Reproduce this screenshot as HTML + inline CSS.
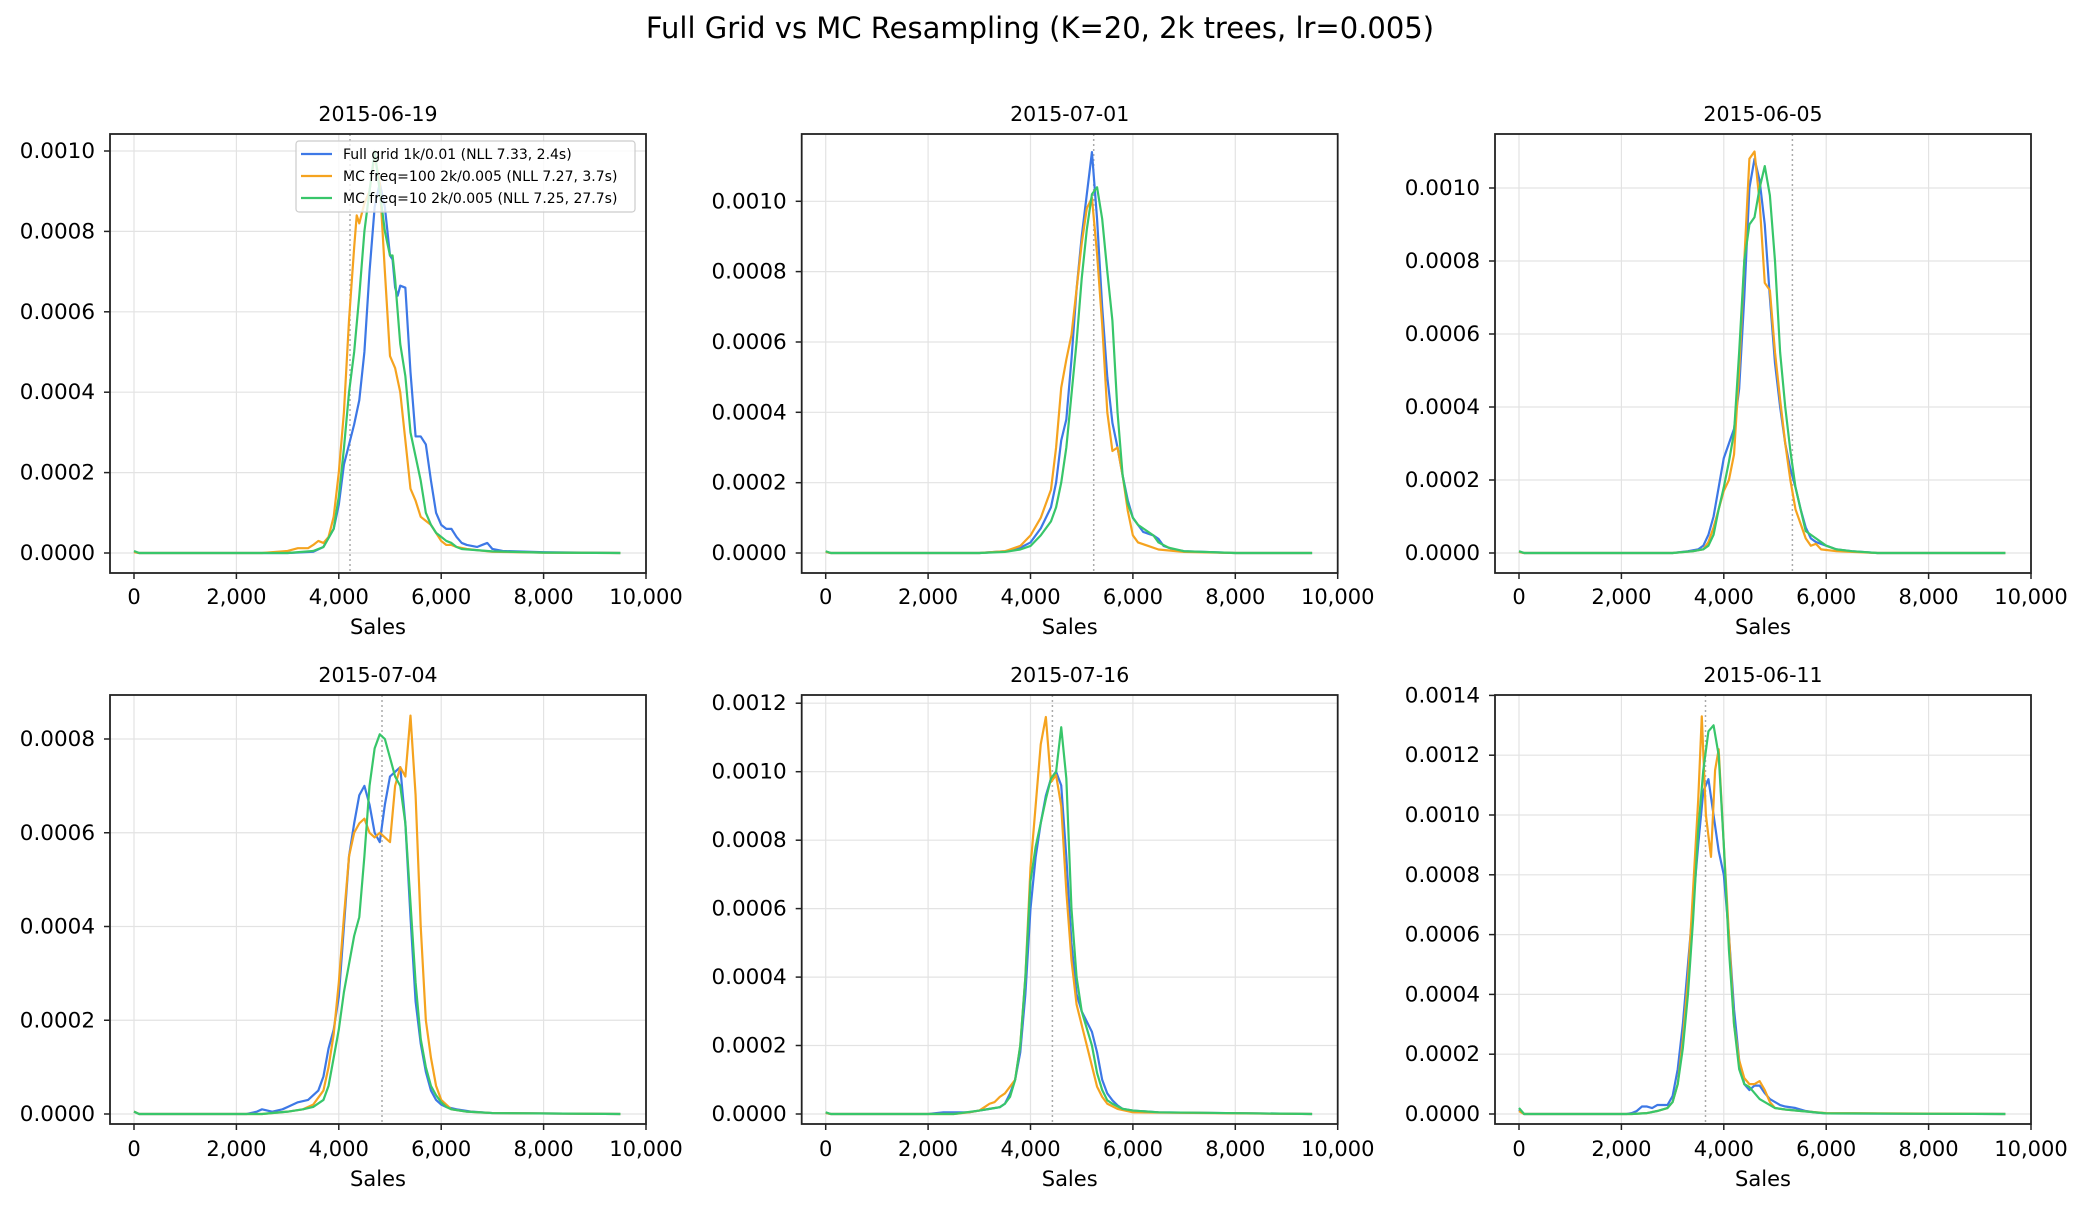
<!DOCTYPE html>
<html><head><meta charset="utf-8"><style>
html,body{margin:0;padding:0;background:#fff}
svg{display:block;font-family:"DejaVu Sans","Liberation Sans",sans-serif}
.g{stroke:#e3e3e3;stroke-width:1.2}
.ax{fill:none;stroke:#222;stroke-width:1.8}
.tk{stroke:#222;stroke-width:1.5}
.d{stroke:#aaa;stroke-width:1.5;stroke-dasharray:2,3}
.c{fill:none;stroke-width:2.2;stroke-linejoin:round;vector-effect:non-scaling-stroke}
.b{stroke:#3d78e6}.o{stroke:#f5a31f}.n{stroke:#38c66a}
.yl{font-size:21.5px;text-anchor:end}
.xl{font-size:21px;text-anchor:middle}
.t{font-size:20.5px;text-anchor:middle}
</style></head><body>
<svg width="2080" height="1218" viewBox="0 0 2080 1218" xmlns="http://www.w3.org/2000/svg">
<text x="1040" y="38" font-size="29" text-anchor="middle">Full Grid vs MC Resampling (K=20, 2k trees, lr=0.005)</text>

<!-- ===== Panel 1 ===== -->
<g>
<g class="g">
<line x1="134" y1="134" x2="134" y2="573"/><line x1="236.4" y1="134" x2="236.4" y2="573"/><line x1="338.8" y1="134" x2="338.8" y2="573"/><line x1="441.2" y1="134" x2="441.2" y2="573"/><line x1="543.6" y1="134" x2="543.6" y2="573"/>
<line x1="110" y1="553" x2="646" y2="553"/><line x1="110" y1="472.6" x2="646" y2="472.6"/><line x1="110" y1="392.2" x2="646" y2="392.2"/><line x1="110" y1="311.8" x2="646" y2="311.8"/><line x1="110" y1="231.4" x2="646" y2="231.4"/><line x1="110" y1="151" x2="646" y2="151"/>
</g>
<line class="d" x1="350" y1="134" x2="350" y2="573"/>
<g transform="translate(134,553) scale(5.12,-4.02)">
<polyline class="c b" points="0,0.3 1,0 30,0 35,0.3 37,1.5 39,6 40,12 41,22 42,27 43,32 44,38 45,50 46,70 47,86 48,92 49,86 50,74 50.5,73 51,66 51.5,64 52,66.5 53,66 54,45 55,29 56,29 57,27 58,18 59,10 60,7 61,6 62,6 63,4 64,2.5 65,2 67,1.5 68,2 69,2.5 70,1 72,0.5 80,0.2 95,0"/>
<polyline class="c o" points="0,0.2 1,0 25,0 30,0.5 32,1.2 34,1.2 35,2 36,3 37,2.5 38,4 39,9 40,20 41,35 42,58 43,76 43.5,84 44,82 45,87 46,90 47,99 48,92 49,70 50,49 51,46 52,40 53,28 54,16 55,13 56,9 57,8 58,7 59,5 60,3 61,2 62,2 63,1.5 65,1 70,0.3 80,0.1 95,0"/>
<polyline class="c n" points="0,0.5 1,0 30,0 35,0.5 37,1.5 39,6 40,14 41,26 42,40 43,50 44,64 45,80 46,90 47,100 48,90 49,80 50,74 50.5,74 51,68 52,52 53,44 54,30 55,24 56,18 57,10 58,7 59,5 60,4 61,3 62,2.5 63,1.5 64,1 70,0.4 80,0.1 95,0"/>
</g>
<rect class="ax" x="110" y="134" width="536" height="439"/>
<g class="tk"><line x1="104" y1="553" x2="110" y2="553"/><line x1="104" y1="472.6" x2="110" y2="472.6"/><line x1="104" y1="392.2" x2="110" y2="392.2"/><line x1="104" y1="311.8" x2="110" y2="311.8"/><line x1="104" y1="231.4" x2="110" y2="231.4"/><line x1="104" y1="151" x2="110" y2="151"/>
<line x1="134" y1="573" x2="134" y2="579"/><line x1="236.4" y1="573" x2="236.4" y2="579"/><line x1="338.8" y1="573" x2="338.8" y2="579"/><line x1="441.2" y1="573" x2="441.2" y2="579"/><line x1="543.6" y1="573" x2="543.6" y2="579"/><line x1="646" y1="573" x2="646" y2="579"/></g>
<g class="yl"><text x="95" y="560">0.0000</text><text x="95" y="479.6">0.0002</text><text x="95" y="399.2">0.0004</text><text x="95" y="318.8">0.0006</text><text x="95" y="238.4">0.0008</text><text x="95" y="158">0.0010</text></g>
<g class="xl"><text x="134" y="604">0</text><text x="236.4" y="604">2,000</text><text x="338.8" y="604">4,000</text><text x="441.2" y="604">6,000</text><text x="543.6" y="604">8,000</text><text x="646" y="604">10,000</text></g>
<text class="xl" x="378" y="634">Sales</text>
<text class="t" x="378" y="121">2015-06-19</text>
<rect x="296" y="141" width="339" height="71" rx="3" fill="#fff" fill-opacity="0.8" stroke="#ccc" stroke-width="1.2"/>
<line x1="301" y1="154" x2="332" y2="154" stroke="#3d78e6" stroke-width="2.2"/>
<line x1="301" y1="176" x2="332" y2="176" stroke="#f5a31f" stroke-width="2.2"/>
<line x1="301" y1="198" x2="332" y2="198" stroke="#38c66a" stroke-width="2.2"/>
<g font-size="14"><text x="343" y="159">Full grid 1k/0.01 (NLL 7.33, 2.4s)</text><text x="343" y="181">MC freq=100 2k/0.005 (NLL 7.27, 3.7s)</text><text x="343" y="203">MC freq=10 2k/0.005 (NLL 7.25, 27.7s)</text></g>
</g>

<!-- ===== Panel 2 ===== -->
<g>
<g class="g">
<line x1="825.7" y1="134" x2="825.7" y2="573"/><line x1="928.1" y1="134" x2="928.1" y2="573"/><line x1="1030.5" y1="134" x2="1030.5" y2="573"/><line x1="1132.9" y1="134" x2="1132.9" y2="573"/><line x1="1235.3" y1="134" x2="1235.3" y2="573"/>
<line x1="801.7" y1="553" x2="1337.7" y2="553"/><line x1="801.7" y1="482.7" x2="1337.7" y2="482.7"/><line x1="801.7" y1="412.3" x2="1337.7" y2="412.3"/><line x1="801.7" y1="342" x2="1337.7" y2="342"/><line x1="801.7" y1="271.6" x2="1337.7" y2="271.6"/><line x1="801.7" y1="201.3" x2="1337.7" y2="201.3"/>
</g>
<line class="d" x1="1093.7" y1="134" x2="1093.7" y2="573"/>
<g transform="translate(825.7,553) scale(5.12,-3.517)">
<polyline class="c b" points="0,0.3 1,0 30,0 35,0.5 38,1.5 40,3 42,7 44,13 45,20 46,32 47,38 48,55 49,75 50,90 51,102 52,114 53,95 54,70 55,50 56,37 57,30 58,22 59,15 60,10 61,8 62,6 63,5.5 64,5 65,4 66,2 68,1 70,0.5 80,0 95,0"/>
<polyline class="c o" points="0,0.3 1,0 30,0 35,0.5 38,2 40,5 42,10 44,18 45,30 46,47 47,55 48,62 49,75 50,88 51,98 52,101 53,85 54,65 55,40 56,29 57,30 58,22 59,12 60,5 61,3 62,2.5 63,2 65,1 70,0.3 80,0 95,0"/>
<polyline class="c n" points="0,0.5 1,0 30,0 35,0.3 38,1 40,2 42,5 44,9 45,13 46,20 47,30 48,45 49,60 50,78 51,92 52,102 53,104 54,95 55,80 56,66 57,40 58,22 59,14 60,10 61,8 62,7 63,6 64,5 65,3 67,1.5 70,0.5 80,0 95,0"/>
</g>
<rect class="ax" x="801.7" y="134" width="536" height="439"/>
<g class="tk"><line x1="795.7" y1="553" x2="801.7" y2="553"/><line x1="795.7" y1="482.7" x2="801.7" y2="482.7"/><line x1="795.7" y1="412.3" x2="801.7" y2="412.3"/><line x1="795.7" y1="342" x2="801.7" y2="342"/><line x1="795.7" y1="271.6" x2="801.7" y2="271.6"/><line x1="795.7" y1="201.3" x2="801.7" y2="201.3"/>
<line x1="825.7" y1="573" x2="825.7" y2="579"/><line x1="928.1" y1="573" x2="928.1" y2="579"/><line x1="1030.5" y1="573" x2="1030.5" y2="579"/><line x1="1132.9" y1="573" x2="1132.9" y2="579"/><line x1="1235.3" y1="573" x2="1235.3" y2="579"/><line x1="1337.7" y1="573" x2="1337.7" y2="579"/></g>
<g class="yl"><text x="786.7" y="560">0.0000</text><text x="786.7" y="489.7">0.0002</text><text x="786.7" y="419.3">0.0004</text><text x="786.7" y="349">0.0006</text><text x="786.7" y="278.6">0.0008</text><text x="786.7" y="208.3">0.0010</text></g>
<g class="xl"><text x="825.7" y="604">0</text><text x="928.1" y="604">2,000</text><text x="1030.5" y="604">4,000</text><text x="1132.9" y="604">6,000</text><text x="1235.3" y="604">8,000</text><text x="1337.7" y="604">10,000</text></g>
<text class="xl" x="1069.7" y="634">Sales</text>
<text class="t" x="1069.7" y="121">2015-07-01</text>
</g>

<!-- ===== Panel 3 ===== -->
<g>
<g class="g">
<line x1="1519" y1="134" x2="1519" y2="573"/><line x1="1621.4" y1="134" x2="1621.4" y2="573"/><line x1="1723.8" y1="134" x2="1723.8" y2="573"/><line x1="1826.2" y1="134" x2="1826.2" y2="573"/><line x1="1928.6" y1="134" x2="1928.6" y2="573"/>
<line x1="1495" y1="553" x2="2031" y2="553"/><line x1="1495" y1="480" x2="2031" y2="480"/><line x1="1495" y1="407" x2="2031" y2="407"/><line x1="1495" y1="334" x2="2031" y2="334"/><line x1="1495" y1="261" x2="2031" y2="261"/><line x1="1495" y1="188" x2="2031" y2="188"/>
</g>
<line class="d" x1="1792.4" y1="134" x2="1792.4" y2="573"/>
<g transform="translate(1519,553) scale(5.12,-3.65)">
<polyline class="c b" points="0,0.3 1,0 30,0 33,0.5 35,1 36,2 37,5 38,10 39,18 40,26 41,30 42,34 43,45 44,70 45,100 46,108 47,102 48,90 49,70 50,52 51,40 52,30 53,23 54,18 55,12 56,7 57,4 58,3 60,2 62,1 65,0.5 70,0 95,0"/>
<polyline class="c o" points="0,0.3 1,0 30,0 34,0.5 36,1 37,3 38,7 39,12 40,17 41,20 42,27 43,50 44,80 45,108 46,110 47,96 48,74 49,72 50,55 51,42 52,30 53,20 54,12 55,8 56,4 57,2 58,2.5 59,1 62,0.5 70,0 95,0"/>
<polyline class="c n" points="0,0.5 1,0 30,0 34,0.5 36,1 37,2 38,5 39,12 40,18 41,25 42,33 43,55 44,80 45,90 46,92 47,100 48,106 49,98 50,80 51,55 52,40 53,28 54,18 55,12 56,6 57,5 58,4 59,3 60,2 62,1 65,0.5 70,0 95,0"/>
</g>
<rect class="ax" x="1495" y="134" width="536" height="439"/>
<g class="tk"><line x1="1489" y1="553" x2="1495" y2="553"/><line x1="1489" y1="480" x2="1495" y2="480"/><line x1="1489" y1="407" x2="1495" y2="407"/><line x1="1489" y1="334" x2="1495" y2="334"/><line x1="1489" y1="261" x2="1495" y2="261"/><line x1="1489" y1="188" x2="1495" y2="188"/>
<line x1="1519" y1="573" x2="1519" y2="579"/><line x1="1621.4" y1="573" x2="1621.4" y2="579"/><line x1="1723.8" y1="573" x2="1723.8" y2="579"/><line x1="1826.2" y1="573" x2="1826.2" y2="579"/><line x1="1928.6" y1="573" x2="1928.6" y2="579"/><line x1="2031" y1="573" x2="2031" y2="579"/></g>
<g class="yl"><text x="1480" y="560">0.0000</text><text x="1480" y="487">0.0002</text><text x="1480" y="414">0.0004</text><text x="1480" y="341">0.0006</text><text x="1480" y="268">0.0008</text><text x="1480" y="195">0.0010</text></g>
<g class="xl"><text x="1519" y="604">0</text><text x="1621.4" y="604">2,000</text><text x="1723.8" y="604">4,000</text><text x="1826.2" y="604">6,000</text><text x="1928.6" y="604">8,000</text><text x="2031" y="604">10,000</text></g>
<text class="xl" x="1763" y="634">Sales</text>
<text class="t" x="1763" y="121">2015-06-05</text>
</g>

<!-- ===== Panel 4 ===== -->
<g>
<g class="g">
<line x1="134" y1="695" x2="134" y2="1124"/><line x1="236.4" y1="695" x2="236.4" y2="1124"/><line x1="338.8" y1="695" x2="338.8" y2="1124"/><line x1="441.2" y1="695" x2="441.2" y2="1124"/><line x1="543.6" y1="695" x2="543.6" y2="1124"/>
<line x1="110" y1="1114" x2="646" y2="1114"/><line x1="110" y1="1020.25" x2="646" y2="1020.25"/><line x1="110" y1="926.5" x2="646" y2="926.5"/><line x1="110" y1="832.75" x2="646" y2="832.75"/><line x1="110" y1="739" x2="646" y2="739"/>
</g>
<line class="d" x1="382" y1="695" x2="382" y2="1124"/>
<g transform="translate(134,1114) scale(5.12,-4.6875)">
<polyline class="c b" points="0,0.5 1,0 22,0 24,0.5 25,1 27,0.5 29,1 30,1.5 32,2.5 34,3 36,5 37,8 38,14 39,18 40,25 41,40 42,55 43,62 44,68 45,70 46,66 47,60 48,58 49,66 50,72 51,73 52,74 53,62 54,42 55,24 56,15 57,9 58,5 59,3 60,2 61,1.5 63,1 66,0.5 70,0.2 95,0"/>
<polyline class="c o" points="0,0.5 1,0 25,0 30,0.5 33,1 35,2 37,5 38,10 39,17 40,28 41,42 42,55 43,60 44,62 45,63 46,60 47,59 48,60 49,59 50,58 51,70 52,74 53,72 54,85 55,68 56,40 57,20 58,12 59,6 60,3 61,2 62,1 65,0.5 70,0.2 95,0"/>
<polyline class="c n" points="0,0.5 1,0 25,0 30,0.5 33,1 35,1.5 37,3 38,6 39,12 40,18 41,26 42,32 43,38 44,42 45,55 46,70 47,78 48,81 49,80 50,76 51,72 52,70 53,62 54,45 55,28 56,16 57,10 58,6 59,4 60,2.5 61,1.5 62,1 65,0.5 70,0.2 95,0"/>
</g>
<rect class="ax" x="110" y="695" width="536" height="429"/>
<g class="tk"><line x1="104" y1="1114" x2="110" y2="1114"/><line x1="104" y1="1020.25" x2="110" y2="1020.25"/><line x1="104" y1="926.5" x2="110" y2="926.5"/><line x1="104" y1="832.75" x2="110" y2="832.75"/><line x1="104" y1="739" x2="110" y2="739"/>
<line x1="134" y1="1124" x2="134" y2="1130"/><line x1="236.4" y1="1124" x2="236.4" y2="1130"/><line x1="338.8" y1="1124" x2="338.8" y2="1130"/><line x1="441.2" y1="1124" x2="441.2" y2="1130"/><line x1="543.6" y1="1124" x2="543.6" y2="1130"/><line x1="646" y1="1124" x2="646" y2="1130"/></g>
<g class="yl"><text x="95" y="1121">0.0000</text><text x="95" y="1027.25">0.0002</text><text x="95" y="933.5">0.0004</text><text x="95" y="839.75">0.0006</text><text x="95" y="746">0.0008</text></g>
<g class="xl"><text x="134" y="1156">0</text><text x="236.4" y="1156">2,000</text><text x="338.8" y="1156">4,000</text><text x="441.2" y="1156">6,000</text><text x="543.6" y="1156">8,000</text><text x="646" y="1156">10,000</text></g>
<text class="xl" x="378" y="1186">Sales</text>
<text class="t" x="378" y="682">2015-07-04</text>
</g>

<!-- ===== Panel 5 ===== -->
<g>
<g class="g">
<line x1="825.7" y1="695" x2="825.7" y2="1124"/><line x1="928.1" y1="695" x2="928.1" y2="1124"/><line x1="1030.5" y1="695" x2="1030.5" y2="1124"/><line x1="1132.9" y1="695" x2="1132.9" y2="1124"/><line x1="1235.3" y1="695" x2="1235.3" y2="1124"/>
<line x1="801.7" y1="1114" x2="1337.7" y2="1114"/><line x1="801.7" y1="1045.5" x2="1337.7" y2="1045.5"/><line x1="801.7" y1="977.1" x2="1337.7" y2="977.1"/><line x1="801.7" y1="908.6" x2="1337.7" y2="908.6"/><line x1="801.7" y1="840.2" x2="1337.7" y2="840.2"/><line x1="801.7" y1="771.7" x2="1337.7" y2="771.7"/><line x1="801.7" y1="703.2" x2="1337.7" y2="703.2"/>
</g>
<line class="d" x1="1052.4" y1="695" x2="1052.4" y2="1124"/>
<g transform="translate(825.7,1114) scale(5.12,-3.423)">
<polyline class="c b" points="0,0.3 1,0 20,0 23,0.5 25,0.5 28,0.5 30,1 32,1.5 34,2 35,3 36,6 37,10 38,18 39,35 40,60 41,75 42,85 43,93 44,98 45,100 46,96 47,75 48,50 49,35 50,30 51,27 52,24 53,18 54,10 55,6 56,4 57,2.5 58,1.5 60,1 65,0.5 95,0"/>
<polyline class="c o" points="0,0.3 1,0 25,0 28,0.5 30,1 31,2 32,3 33,3.5 34,5 35,6 36,8 37,10 38,20 39,40 40,72 41,90 42,108 43,116 44,97 45,99 46,90 47,65 48,45 49,32 50,26 51,20 52,14 53,8 54,5 55,3 57,1.5 60,0.5 95,0"/>
<polyline class="c n" points="0,0.5 1,0 25,0 30,1 32,1.5 34,2 35,3 36,5 37,10 38,20 39,40 40,68 41,78 42,85 43,92 44,98 45,100 46,113 47,98 48,60 49,40 50,30 51,25 52,20 53,12 54,7 55,4 56,3 58,1.5 60,1 65,0.5 95,0"/>
</g>
<rect class="ax" x="801.7" y="695" width="536" height="429"/>
<g class="tk"><line x1="795.7" y1="1114" x2="801.7" y2="1114"/><line x1="795.7" y1="1045.5" x2="801.7" y2="1045.5"/><line x1="795.7" y1="977.1" x2="801.7" y2="977.1"/><line x1="795.7" y1="908.6" x2="801.7" y2="908.6"/><line x1="795.7" y1="840.2" x2="801.7" y2="840.2"/><line x1="795.7" y1="771.7" x2="801.7" y2="771.7"/><line x1="795.7" y1="703.2" x2="801.7" y2="703.2"/>
<line x1="825.7" y1="1124" x2="825.7" y2="1130"/><line x1="928.1" y1="1124" x2="928.1" y2="1130"/><line x1="1030.5" y1="1124" x2="1030.5" y2="1130"/><line x1="1132.9" y1="1124" x2="1132.9" y2="1130"/><line x1="1235.3" y1="1124" x2="1235.3" y2="1130"/><line x1="1337.7" y1="1124" x2="1337.7" y2="1130"/></g>
<g class="yl"><text x="786.7" y="1121">0.0000</text><text x="786.7" y="1052.5">0.0002</text><text x="786.7" y="984.1">0.0004</text><text x="786.7" y="915.6">0.0006</text><text x="786.7" y="847.2">0.0008</text><text x="786.7" y="778.7">0.0010</text><text x="786.7" y="710.2">0.0012</text></g>
<g class="xl"><text x="825.7" y="1156">0</text><text x="928.1" y="1156">2,000</text><text x="1030.5" y="1156">4,000</text><text x="1132.9" y="1156">6,000</text><text x="1235.3" y="1156">8,000</text><text x="1337.7" y="1156">10,000</text></g>
<text class="xl" x="1069.7" y="1186">Sales</text>
<text class="t" x="1069.7" y="682">2015-07-16</text>
</g>

<!-- ===== Panel 6 ===== -->
<g>
<g class="g">
<line x1="1519" y1="695" x2="1519" y2="1124"/><line x1="1621.4" y1="695" x2="1621.4" y2="1124"/><line x1="1723.8" y1="695" x2="1723.8" y2="1124"/><line x1="1826.2" y1="695" x2="1826.2" y2="1124"/><line x1="1928.6" y1="695" x2="1928.6" y2="1124"/>
<line x1="1495" y1="1114" x2="2031" y2="1114"/><line x1="1495" y1="1054.2" x2="2031" y2="1054.2"/><line x1="1495" y1="994.4" x2="2031" y2="994.4"/><line x1="1495" y1="934.6" x2="2031" y2="934.6"/><line x1="1495" y1="874.8" x2="2031" y2="874.8"/><line x1="1495" y1="815" x2="2031" y2="815"/><line x1="1495" y1="755.2" x2="2031" y2="755.2"/>
</g>
<line class="d" x1="1705.5" y1="695" x2="1705.5" y2="1124"/>
<g transform="translate(1519,1114) scale(5.12,-2.99)">
<polyline class="c b" points="0,1.5 1,0 21,0 22,0.3 23,1 24,2.5 25,2.5 26,2 27,3 28,3 29,3 30,6 31,15 32,30 33,50 34,70 35,90 36,108 37,112 38,100 39,88 40,80 41,60 42,35 43,18 44,10 45,8 46,9.5 47,9.5 48,7 49,5 50,4 51,3 52,2.5 54,2 56,1 58,0.5 60,0.2 95,0"/>
<polyline class="c o" points="0,1 1,0 22,0 25,0.3 27,1 28,1.5 29,2 30,4 31,10 32,25 33,45 34,75 35,105 35.7,133 36.5,100 37.5,86 38.3,115 39,122 40,90 41,60 42,30 43,18 44,12 45,10 46,10 47,11 48,8 49,4 50,2 52,1.5 55,1 60,0.3 95,0"/>
<polyline class="c n" points="0,2 1,0 22,0 25,0.3 27,1 29,2 30,4 31,10 32,22 33,40 34,65 35,95 36,115 37,128 38,130 39,120 40,90 41,55 42,30 43,15 44,10 45,9 46,7 47,5 48,4 49,3 50,2 52,1.5 55,1 60,0.2 95,0"/>
</g>
<rect class="ax" x="1495" y="695" width="536" height="429"/>
<g class="tk"><line x1="1489" y1="1114" x2="1495" y2="1114"/><line x1="1489" y1="1054.2" x2="1495" y2="1054.2"/><line x1="1489" y1="994.4" x2="1495" y2="994.4"/><line x1="1489" y1="934.6" x2="1495" y2="934.6"/><line x1="1489" y1="874.8" x2="1495" y2="874.8"/><line x1="1489" y1="815" x2="1495" y2="815"/><line x1="1489" y1="755.2" x2="1495" y2="755.2"/><line x1="1489" y1="695.4" x2="1495" y2="695.4"/>
<line x1="1519" y1="1124" x2="1519" y2="1130"/><line x1="1621.4" y1="1124" x2="1621.4" y2="1130"/><line x1="1723.8" y1="1124" x2="1723.8" y2="1130"/><line x1="1826.2" y1="1124" x2="1826.2" y2="1130"/><line x1="1928.6" y1="1124" x2="1928.6" y2="1130"/><line x1="2031" y1="1124" x2="2031" y2="1130"/></g>
<g class="yl"><text x="1480" y="1121">0.0000</text><text x="1480" y="1061.2">0.0002</text><text x="1480" y="1001.4">0.0004</text><text x="1480" y="941.6">0.0006</text><text x="1480" y="881.8">0.0008</text><text x="1480" y="822">0.0010</text><text x="1480" y="762.2">0.0012</text><text x="1480" y="702.4">0.0014</text></g>
<g class="xl"><text x="1519" y="1156">0</text><text x="1621.4" y="1156">2,000</text><text x="1723.8" y="1156">4,000</text><text x="1826.2" y="1156">6,000</text><text x="1928.6" y="1156">8,000</text><text x="2031" y="1156">10,000</text></g>
<text class="xl" x="1763" y="1186">Sales</text>
<text class="t" x="1763" y="682">2015-06-11</text>
</g>
</svg>
</body></html>
